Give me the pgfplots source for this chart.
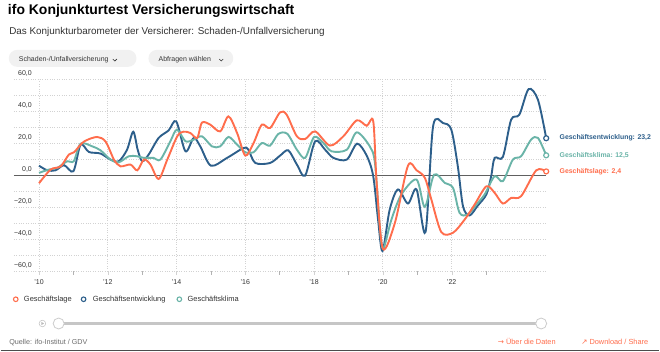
\documentclass[border=0pt]{standalone}
\usepackage{pgfplots}
\pgfplotsset{compat=1.18}
\usepackage{fontspec}
\setmainfont{Liberation Sans}
\newfontfamily\symfont{DejaVu Sans}
\definecolor{cOr}{HTML}{FF6D4C}
\definecolor{cBl}{HTML}{2D5F8B}
\definecolor{cTe}{HTML}{6AB4A8}
\definecolor{cGrid}{HTML}{D2D2D2}
\definecolor{cTxt}{HTML}{333333}
\definecolor{cBtn}{HTML}{F1F1F1}
\begin{document}
\begin{tikzpicture}[x=1pt,y=1pt]
\fill[white] (0,0) rectangle (660,352);
% title and subtitle
\node[anchor=base west, inner sep=0, font=\fontsize{14}{16}\selectfont\bfseries, text=black] at (7,337) {ifo Konjunkturtest Versicherungswirtschaft};
\node[anchor=base west, inner sep=0, font=\fontsize{9.9}{11}\selectfont, text=cTxt] at (8.3,317.7) {Das Konjunkturbarometer der Versicherer: Schaden-/Unfallversicherung};
% buttons
\fill[cBtn, rounded corners=8.5pt] (8,285) rectangle (136,302);
\node[anchor=base west, inner sep=0, font=\fontsize{7}{8}\selectfont, text=cTxt] at (18,290.3) {Schaden-/Unfallversicherung};
\draw[cTxt, line width=0.6pt] (112.3,292.8) -- (114.3,290.8) -- (116.3,292.8);
\fill[cBtn, rounded corners=8.5pt] (148,285) rectangle (233,302);
\node[anchor=base west, inner sep=0, font=\fontsize{7}{8}\selectfont, text=cTxt] at (158,290.3) {Abfragen wählen};
\draw[cTxt, line width=0.6pt] (219,292.8) -- (221,290.8) -- (223,292.8);
% chart
\begin{axis}[
  at={(13pt,80.3pt)}, anchor=south west,
  scale only axis, width=534pt, height=192pt,
  xmin=2009.266, xmax=2024.758, ymin=-60, ymax=60,
  axis line style={draw=none},
  clip=false,
  xtick={2010,2012,...,2022},
  xticklabels={'10,'12,'14,'16,'18,'20,'22},
  minor xtick={2011,2013,...,2023},
  ytick={-60,-40,...,60},
  yticklabels={{−60,0},{−40,0},{−20,0},{0,0},{20,0},{40,0},{60,0}},
  minor ytick={-50,-30,...,50},
  ymajorgrids, yminorgrids, xmajorgrids,
  grid style={cGrid, dotted, line width=0.9pt},
  tick pos=left,
  tick align=outside,
  major tick length=4pt, minor tick length=3.5pt,
  ytick style={draw=none},
  xtick style={cGrid},
  minor x tick style={gray!60, solid, line width=0.6pt},
  yticklabel style={anchor=base east, inner sep=0pt, xshift=22.3pt, yshift=4pt, font=\fontsize{7}{8}\selectfont, text=cTxt},
  xticklabel style={anchor=north, inner sep=0pt, yshift=-4pt, font=\fontsize{7}{8}\selectfont, text=cTxt},
]
\addplot[gray!75!black, line width=0.8pt, forget plot] coordinates {(2009.266,0) (2024.758,0)};
\addplot[cBl, line width=1.9pt, smooth, tension=0.5] coordinates {
(2010.00,6) (2010.24,3.1) (2010.48,3.1) (2010.73,6.3) (2011.00,2.5) (2011.21,19.2) (2011.45,14.6) (2011.79,13.6)
(2012.08,9.8) (2012.32,8.8) (2012.56,16) (2012.74,27.3) (2012.87,16) (2013.00,8.8) (2013.19,13) (2013.48,23.4)
(2013.77,28.1) (2013.99,33.8) (2014.26,15) (2014.50,23.4) (2014.69,18.1) (2015.00,6) (2015.47,10.9) (2015.95,17.1)
(2016.09,16) (2016.29,7.7) (2016.72,7.7) (2017.01,12.3) (2017.25,15.6) (2017.50,6.7) (2017.74,-0.2) (2018.03,21.3)
(2018.32,16) (2018.56,10.9) (2018.95,9.8) (2019.25,19.8) (2019.53,12.3) (2019.72,-0.6) (2019.86,-27.7) (2019.99,-47.5)
(2020.20,-21.4) (2020.44,-8.9) (2020.73,-17.7) (2020.98,-8.9) (2021.24,-35.6) (2021.46,30.6) (2021.75,32.7) (2021.99,28.6)
(2022.18,5.6) (2022.33,-19.4) (2022.52,-25.2) (2022.76,-19) (2023.01,-12) (2023.15,-0.6) (2023.25,10.9) (2023.49,11.5)
(2023.73,34.8) (2023.97,38) (2024.24,54) (2024.51,47.3) (2024.75,23.2)};
\addplot[cTe, line width=1.9pt, smooth, tension=0.5] coordinates {
(2010.00,1.5) (2010.29,3.6) (2010.53,4.6) (2010.82,8.8) (2011.01,8.8) (2011.21,19.8) (2011.55,18.1) (2011.79,15.6)
(2012.08,9.8) (2012.32,8.1) (2012.61,11.9) (2012.85,11.9) (2013.05,10.9) (2013.33,10.9) (2013.53,9.8) (2013.82,21.3)
(2014.01,28.6) (2014.26,21.3) (2014.50,22.3) (2014.74,24.4) (2015.03,18.1) (2015.27,18.1) (2015.51,24) (2015.76,19.2)
(2016.00,14.4) (2016.24,14.4) (2016.48,20.2) (2016.72,18.6) (2016.96,25.9) (2017.22,26) (2017.50,16) (2017.74,10.9)
(2018.00,24) (2018.27,20.2) (2018.51,15) (2018.95,16) (2019.24,26.9) (2019.62,18.1) (2019.77,7.7) (2019.91,-31.9)
(2020.01,-46) (2020.25,-27.7) (2020.54,-12) (2020.98,-2.7) (2021.22,-19.8) (2021.49,0.4) (2021.80,-4.8) (2022.04,-7.9)
(2022.23,-23.5) (2022.47,-24.6) (2022.76,-17.3) (2022.96,-12) (2023.25,-0.6) (2023.49,-3.7) (2023.78,9.8) (2024.02,11.9)
(2024.31,22.3) (2024.51,23.4) (2024.75,12.5)};
\addplot[cOr, line width=1.9pt, smooth, tension=0.5] coordinates {
(2010.00,-5) (2010.34,3.6) (2010.63,5.6) (2010.87,13) (2011.02,14.4) (2011.30,21) (2011.69,24) (2011.94,21)
(2012.18,9.8) (2012.37,5.6) (2012.66,6.7) (2012.86,3.1) (2013.05,9.8) (2013.24,6.7) (2013.48,-2.3) (2013.73,9.8)
(2014.02,24.4) (2014.20,27.3) (2014.40,26.5) (2014.60,23.4) (2014.74,33) (2014.98,31.7) (2015.27,27.5) (2015.51,36.9)
(2015.76,26.5) (2016.00,12.3) (2016.24,20.2) (2016.48,31.7) (2016.72,29.6) (2017.01,39.4) (2017.20,38) (2017.50,24.4)
(2017.74,22.7) (2018.03,27.5) (2018.46,18.6) (2018.85,24.4) (2019.24,34.4) (2019.53,31) (2019.72,33.8) (2019.82,-5)
(2020.00,-46) (2020.35,-29.8) (2020.73,6) (2020.98,3.1) (2021.22,-1.6) (2021.41,-15.2) (2021.70,-35.6) (2022.04,-36)
(2022.38,-27.7) (2022.67,-18.3) (2023.01,-6.9) (2023.25,-11) (2023.49,-17.7) (2023.73,-14.2) (2024.02,-13.1) (2024.46,3.1)
(2024.75,2.4)};
% end markers
\addplot[only marks, mark=*, mark size=2.5pt, mark options={fill=white, draw=cBl, line width=1.2pt}] coordinates {(2024.75,23.2)};
\addplot[only marks, mark=*, mark size=2.5pt, mark options={fill=white, draw=cTe, line width=1.2pt}] coordinates {(2024.75,12.5)};
\addplot[only marks, mark=*, mark size=2.5pt, mark options={fill=white, draw=cOr, line width=1.2pt}] coordinates {(2024.75,2.4)};
\node[anchor=west, inner sep=0, xshift=13.3pt, font=\fontsize{6.9}{8}\selectfont\bfseries, text=cBl] at (axis cs:2024.75,23.2) {Geschäftsentwicklung: 23,2};
\node[anchor=west, inner sep=0, xshift=13.3pt, font=\fontsize{6.9}{8}\selectfont\bfseries, text=cTe] at (axis cs:2024.75,12.3) {Geschäftsklima: 12,5};
\node[anchor=west, inner sep=0, xshift=13.3pt, font=\fontsize{6.9}{8}\selectfont\bfseries, text=cOr] at (axis cs:2024.75,2.4) {Geschäftslage: 2,4};
\end{axis}
% legend
\draw[cOr, line width=1.1pt] (15,52) circle (2.3);
\node[anchor=base west, inner sep=0, font=\fontsize{7.5}{9}\selectfont, text=cTxt] at (23,49.5) {Geschäftslage};
\draw[cBl, line width=1.1pt] (83,52) circle (2.3);
\node[anchor=base west, inner sep=0, font=\fontsize{7.5}{9}\selectfont, text=cTxt] at (92,49.5) {Geschäftsentwicklung};
\draw[cTe, line width=1.1pt] (179,52) circle (2.3);
\node[anchor=base west, inner sep=0, font=\fontsize{7.5}{9}\selectfont, text=cTxt] at (187,49.5) {Geschäftsklima};
% slider
\draw[gray!50, line width=0.5pt] (41.7,27.7) circle (3.3);
\fill[gray!55] (40.7,29.3) -- (43.3,27.7) -- (40.7,26.1) -- cycle;
\draw[gray!45, line width=3pt] (58,27.7) -- (541.7,27.7);
\draw[gray!40, fill=white, line width=0.8pt] (58,27.7) circle (5.5);
\draw[gray!40, fill=white, line width=0.8pt] (541.7,27.7) circle (5.5);
% footer
\node[anchor=base west, inner sep=0, font=\fontsize{7.2}{9}\selectfont, text=gray!85!black] at (8.3,6.3) {Quelle: ifo-Institut / GDV};
\node[anchor=base west, inner sep=0, font=\fontsize{7.4}{9}\selectfont, text=cOr] at (498,6.3) {{\symfont →} Über die Daten};
\node[anchor=base west, inner sep=0, font=\fontsize{7.4}{9}\selectfont, text=cOr] at (581.7,6.3) {{\symfont ↗} Download / Share};
\draw[black!70, line width=1.6pt] (0,0.8) -- (660,0.8);
\end{tikzpicture}
\end{document}
